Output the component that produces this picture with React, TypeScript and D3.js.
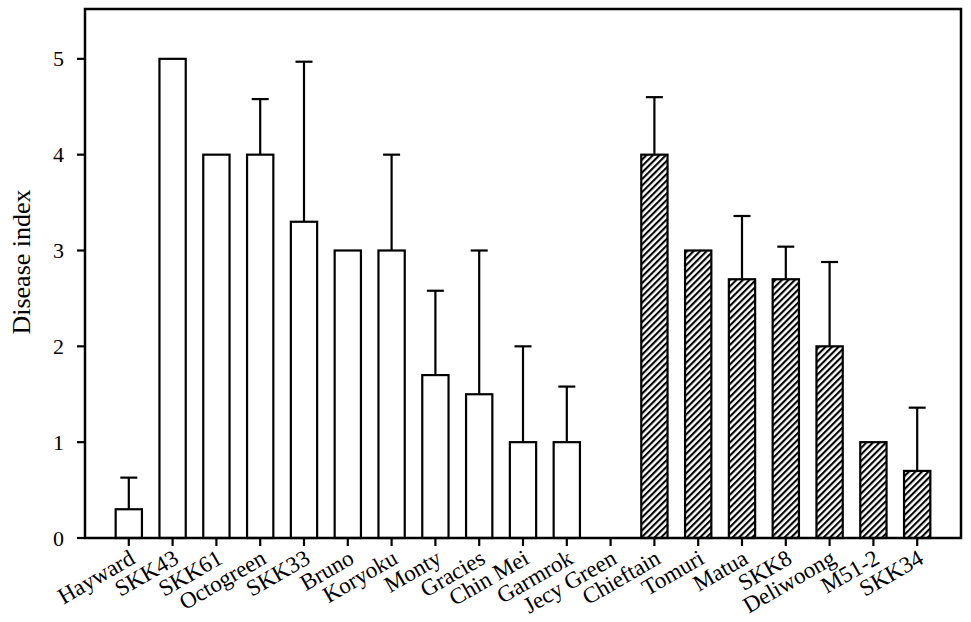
import React from "react";
import * as d3 from "d3";

const categories = ["Hayward","SKK43","SKK61","Octogreen","SKK33","Bruno","Koryoku","Monty","Gracies","Chin Mei","Garmrok","Jecy Green","Chieftain","Tomuri","Matua","SKK8","Deliwoong","M51-2","SKK34"];
const means = [0.3,5,4,4,3.3,3,3,1.7,1.5,1,1,0,4,3,2.7,2.7,2,1,0.7];
const errors = [0.33,0,0,0.58,1.67,0,1,0.88,1.5,1,0.58,0,0.6,0,0.66,0.34,0.88,0,0.66];
const hatched = [false,false,false,false,false,false,false,false,false,false,false,false,true,true,true,true,true,true,true];
const yTicks = [0,1,2,3,4,5];

const W = 971, H = 622;
const left = 85, right = 961, top = 9, bottom = 538;

export default function App() {
  const n = categories.length;
  const x = d3.scaleLinear().domain([0, n + 1]).range([left, right]);
  const y = d3.scaleLinear().domain([0, 5.52]).range([bottom, top]);
  const step = x(1) - x(0);
  const bw = step * 0.6;
  const font = "'Liberation Serif', 'Times New Roman', serif";
  return (
    <svg width={W} height={H} style={{ position: "absolute", left: 0, top: 0, background: "#fff" }} fontFamily={font}>
      <defs>
        <pattern id="hatch" patternUnits="userSpaceOnUse" width="4.6" height="4.6" patternTransform="rotate(45)">
          <rect width="4.6" height="4.6" fill="#fff" />
          <line x1="1.05" y1="0" x2="1.05" y2="4.6" stroke="#000" strokeWidth="2.1" />
        </pattern>
      </defs>
      <rect width={W} height={H} fill="#fff" />
      {categories.map((c, i) => {
        const cx = x(i + 1);
        const v = means[i];
        const e = errors[i];
        return (
          <g key={c}>
            {e > 0 && (
              <g stroke="#000" strokeWidth={2.2}>
                <line x1={cx} x2={cx} y1={y(v)} y2={y(v + e)} />
                <line x1={cx - 8.5} x2={cx + 8.5} y1={y(v + e)} y2={y(v + e)} />
              </g>
            )}
            {v > 0 && (
              <rect x={cx - bw / 2} y={y(v)} width={bw} height={y(0) - y(v)}
                fill={hatched[i] ? "url(#hatch)" : "#fff"} stroke="#000" strokeWidth={2.2} />
            )}
            <line x1={cx} x2={cx} y1={bottom} y2={bottom + 8} stroke="#000" strokeWidth={2.2} />
            <text transform={`translate(${cx + 5},${bottom + 20}) rotate(-30)`} textAnchor="end" fontSize={23} dominantBaseline="middle" fill="#000">{c}</text>
          </g>
        );
      })}
      <rect x={left} y={top} width={right - left} height={bottom - top} fill="none" stroke="#000" strokeWidth={2.5} />
      {yTicks.map(t => (
        <g key={t}>
          <line x1={left - 8} x2={left} y1={y(t)} y2={y(t)} stroke="#000" strokeWidth={2.2} />
          <text x={64} y={y(t)} textAnchor="end" dominantBaseline="central" fontSize={22} fill="#000">{t}</text>
        </g>
      ))}
      <text transform={`translate(30,262) rotate(-90)`} textAnchor="middle" fontSize={26} fill="#000">Disease index</text>
    </svg>
  );
}
